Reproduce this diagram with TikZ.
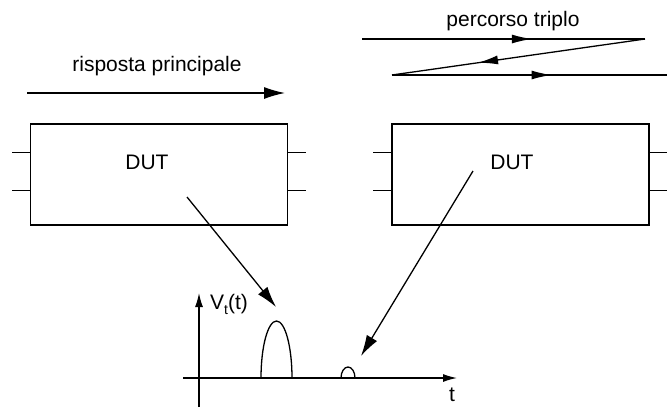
\documentclass[tikz,border=0pt]{standalone}
\usepackage{fontspec}
\setmainfont{Liberation Sans}
\usetikzlibrary{arrows.meta,decorations.markings}
\begin{document}
\begin{tikzpicture}[x=1pt,y=-1pt,
  line width=1.3pt,
  tip/.style={-{Latex[length=21pt,width=12pt]}},
  midarrow/.style={postaction={decorate,decoration={markings,
     mark=at position #1 with {\arrow{Latex[length=20pt,width=9pt]}}}}},
  dut/.style={draw,minimum width=257pt,minimum height=101pt,inner sep=0pt},
  lbl/.style={font=\fontsize{21}{25}\selectfont,inner sep=0pt}]
\useasboundingbox (0,0) rectangle (667,410);
% labels
\node[lbl] (rp) at (157,66) {risposta principale};
\node[lbl] (pt) at (513,21) {percorso triplo};
% main response arrow
\coordinate (rs) at (27,93);
\coordinate (re) at (285,93);
\draw[tip] (rs) -- (re);
% triple path
\coordinate (p1) at (362,39);
\coordinate (p2) at (645,39);
\coordinate (p3) at (392,75);
\coordinate (p4) at (667,75);
\draw[midarrow=0.6] (p1) -- (p2);
\draw[midarrow=0.66] (p2) -- (p3);
\draw[midarrow=0.58] (p3) -- (p4);
% DUT boxes
\node[dut] (b1) at (159,174.5) {};
\node[dut] (b2) at (520.5,174.5) {};
\node[lbl] (d1) at (147,162) {DUT};
\node[lbl] (d2) at (512,162) {DUT};
% pins
\foreach \b in {b1,b2}{
  \draw ([yshift=-29pt]\b.north west) -- ++(-18,0);
  \draw ([yshift=-67pt]\b.north west) -- ++(-18,0);
  \draw ([yshift=-29pt]\b.north east) -- ++(18,0);
  \draw ([yshift=-67pt]\b.north east) -- ++(18,0);
}
% axes
\coordinate (xs) at (183,378);
\coordinate (xe) at (457,378);
\coordinate (ys) at (199,407);
\coordinate (ye) at (199,293);
\draw[-{Latex[length=14pt,width=8pt]}] (xs) -- (xe);
\draw[-{Latex[length=14pt,width=8pt]}] (ys) -- (ye);
\node[lbl] (vt) at (229,304) {V{\fontsize{14}{14}\selectfont\raisebox{-5pt}{t}}(t)};
\node[lbl] (tl) at (452,395) {t};
% pulses
\coordinate (q1) at (261,378);
\coordinate (q2) at (341,378);
\draw (q1) arc[start angle=180,end angle=0,x radius=15.5,y radius=-57];
\draw (q2) arc[start angle=180,end angle=0,x radius=7,y radius=-11];
% pointer arrows
\coordinate (a1s) at (187,197);
\coordinate (a1e) at (276,307);
\coordinate (a2s) at (473,171);
\coordinate (a2e) at (361,356);
\draw[tip] (a1s) -- (a1e);
\draw[tip] (a2s) -- (a2e);
\end{tikzpicture}
\end{document}
